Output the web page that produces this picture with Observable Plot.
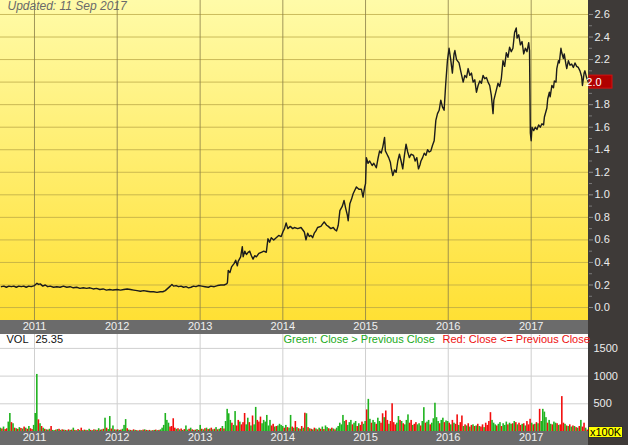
<!DOCTYPE html>
<html><head><meta charset="utf-8">
<script src="https://cdn.jsdelivr.net/npm/d3@7"></script>
<script src="https://cdn.jsdelivr.net/npm/@observablehq/plot@0.6"></script>
<style>
html,body{margin:0;padding:0;background:#fff;}
#chart{width:628px;height:445px;overflow:hidden;}
#chart svg{display:block;}
</style></head><body><div id="chart"></div>
<script>
// ---------- DATA ----------
const updatedText = "Updated: 11 Sep 2017";
const lastClose = 2.0;
const lastVolume = 25.35;
const yearTicks = [2011, 2012, 2013, 2014, 2015, 2016, 2017];
const priceTicks = [0, 0.2, 0.4, 0.6, 0.8, 1.0, 1.2, 1.4, 1.6, 1.8, 2.0, 2.2, 2.4, 2.6];
const volTicks = [500, 1000, 1500];

// closing price, decimal-year dates
const priceYears = [
2010.60,2010.63,2010.66,2010.69,2010.72,2010.75,2010.78,2010.81,2010.84,2010.87,2010.90,2010.93,2010.96,
2011.00,2011.03,2011.05,2011.07,2011.10,2011.13,2011.16,2011.19,2011.23,2011.27,2011.31,2011.35,2011.39,2011.43,2011.47,2011.51,2011.55,2011.59,2011.63,2011.67,2011.71,2011.75,2011.79,2011.83,2011.87,2011.91,2011.95,
2012.00,2012.04,2012.08,2012.12,2012.16,2012.20,2012.24,2012.28,2012.32,2012.36,2012.40,2012.44,2012.48,2012.52,2012.55,2012.58,2012.61,2012.64,2012.66,2012.68,2012.71,2012.74,2012.77,2012.80,2012.83,2012.86,2012.89,2012.92,2012.95,2012.98,
2013.02,2013.06,2013.10,2013.13,2013.17,2013.21,2013.25,2013.29,2013.32,2013.33,2013.34,2013.36,2013.38,2013.41,2013.43,2013.45,2013.46,2013.49,2013.51,2013.52,2013.54,2013.56,2013.58,2013.60,2013.62,2013.64,2013.66,2013.68,2013.71,2013.74,2013.77,2013.80,2013.82,2013.84,2013.86,2013.89,2013.92,2013.95,2013.98,
2014.00,2014.02,2014.04,2014.06,2014.09,2014.12,2014.14,2014.18,2014.22,2014.24,2014.26,2014.28,2014.30,2014.32,2014.34,2014.36,2014.38,2014.40,2014.42,2014.46,2014.50,2014.53,2014.55,2014.58,2014.61,2014.63,2014.65,2014.67,2014.69,2014.72,2014.74,2014.76,2014.78,2014.79,2014.81,2014.83,2014.85,2014.87,2014.89,2014.92,2014.95,2014.97,2014.99,
2015.00,2015.01,2015.03,2015.05,2015.08,2015.10,2015.13,2015.15,2015.17,2015.19,2015.21,2015.23,2015.24,2015.26,2015.28,2015.30,2015.31,2015.33,2015.35,2015.37,2015.39,2015.41,2015.43,2015.45,2015.47,2015.49,2015.51,2015.53,2015.55,2015.58,2015.60,2015.62,2015.64,2015.66,2015.67,2015.69,2015.71,2015.73,2015.75,2015.77,2015.79,2015.81,2015.83,2015.85,2015.87,2015.89,2015.91,2015.93,2015.95,2015.97,2015.99,
2016.01,2016.03,2016.05,2016.07,2016.08,2016.10,2016.13,2016.15,2016.18,2016.20,2016.22,2016.24,2016.26,2016.28,2016.30,2016.32,2016.34,2016.36,2016.38,2016.40,2016.42,2016.44,2016.46,2016.48,2016.50,2016.52,2016.54,2016.55,2016.57,2016.60,2016.62,2016.64,2016.66,2016.68,2016.70,2016.72,2016.74,2016.76,2016.78,2016.80,2016.82,2016.83,2016.85,2016.87,2016.89,2016.91,2016.93,2016.95,2016.97,2016.98,2016.99,
2017.00,2017.01,2017.03,2017.05,2017.07,2017.09,2017.11,2017.13,2017.15,2017.16,2017.19,2017.20,2017.22,2017.23,2017.25,2017.27,2017.28,2017.30,2017.31,2017.33,2017.34,2017.36,2017.37,2017.39,2017.40,2017.42,2017.43,2017.45,2017.47,2017.49,2017.51,2017.53,2017.55,2017.57,2017.59,2017.61,2017.62,2017.64,2017.65,2017.67,2017.69
];
const priceValues = [
0.185,0.19,0.18,0.19,0.185,0.19,0.18,0.19,0.185,0.19,0.18,0.19,0.185,
0.195,0.215,0.205,0.21,0.19,0.2,0.185,0.19,0.18,0.185,0.18,0.19,0.18,0.185,0.175,0.18,0.17,0.175,0.17,0.175,0.165,0.17,0.16,0.165,0.155,0.16,0.155,
0.16,0.155,0.16,0.165,0.16,0.155,0.15,0.145,0.15,0.145,0.14,0.14,0.135,0.14,0.14,0.15,0.17,0.19,0.205,0.19,0.195,0.185,0.19,0.18,0.185,0.175,0.18,0.19,0.185,0.195,
0.19,0.185,0.18,0.19,0.185,0.195,0.2,0.2,0.21,0.22,0.33,0.31,0.36,0.39,0.42,0.37,0.41,0.45,0.54,0.45,0.5,0.47,0.49,0.5,0.46,0.43,0.46,0.45,0.48,0.49,0.5,0.49,0.61,0.58,0.62,0.6,0.62,0.64,0.63,
0.67,0.7,0.75,0.7,0.72,0.7,0.71,0.7,0.71,0.69,0.67,0.6,0.66,0.63,0.64,0.62,0.66,0.68,0.71,0.72,0.76,0.73,0.72,0.7,0.71,0.69,0.68,0.73,0.86,0.9,0.95,0.88,0.82,0.77,0.92,0.96,1.01,1.04,1.07,1.05,1.05,0.98,1.07,
1.1,1.33,1.28,1.3,1.26,1.28,1.24,1.32,1.39,1.37,1.43,1.51,1.39,1.36,1.33,1.29,1.24,1.17,1.22,1.2,1.3,1.36,1.3,1.23,1.35,1.45,1.38,1.33,1.36,1.35,1.3,1.33,1.23,1.27,1.3,1.33,1.37,1.35,1.4,1.38,1.39,1.44,1.48,1.66,1.72,1.75,1.84,1.78,1.75,1.99,2.19,
2.3,2.2,2.08,2.25,2.28,2.2,2.17,2.1,2.0,2.06,2.04,2.12,2.06,2.08,2.0,2.02,1.91,1.97,2.01,1.99,2.06,2.03,2.04,2.0,1.97,1.88,1.72,1.84,1.9,1.99,1.96,2.03,2.19,2.14,2.26,2.22,2.31,2.27,2.3,2.44,2.48,2.39,2.42,2.33,2.36,2.25,2.3,2.27,2.35,2.28,1.55,
1.48,1.6,1.57,1.6,1.58,1.62,1.6,1.63,1.62,1.69,1.77,1.85,1.91,1.87,1.97,1.95,2.01,2.0,2.12,2.19,2.17,2.3,2.26,2.21,2.25,2.16,2.12,2.19,2.15,2.16,2.13,2.17,2.14,2.13,2.1,2.05,1.97,2.08,2.1,2.04,2.0
];

// weekly volume (x100K), positive = close > previous close (green), negative = red
const volFirstWeek = "2010-08-02";
const vol2010 = [60,-45,80,-35,-50,170,325,-160,140,-60,50,-40,70,-55,45,-80,60,-40,90,-50,-35,110];
const vol2011 = [325,1030,-210,140,-90,60,-40,30,-25,40,-90,20,15,-25,35,-40,20,-30,25,-20,15,-30,20,-25,60,-20,15,-35,20,-60,15,-25,20,-15,40,-20,15,-30,25,-20,50,-25,30,-40,240,-60,35,270,-45,100,-30,25];
const vol2012 = [-30,20,-25,40,110,215,-50,25,-20,15,-30,20,-15,10,-20,15,-25,30,-20,15,-20,10,-15,20,-25,15,-20,30,60,110,325,200,150,-80,-90,-230,-60,40,-50,30,-45,20,-35,100,25,-40,60,-30,20,-25,35,-20];
const vol2013 = [110,-40,30,-50,60,-35,45,-60,30,-40,70,-30,40,-55,90,-45,180,400,320,200,-150,110,360,-100,-200,170,-120,-160,-325,120,240,-160,100,-280,120,435,-200,-170,-260,140,200,170,290,100,200,-100,-130,80,-90,100,130,110];
const vol2014 = [90,-60,110,-70,60,290,-80,60,-180,70,-50,40,-90,60,-330,320,-70,50,-40,30,-60,45,-30,60,-40,80,-35,100,70,-50,40,-60,45,-30,60,90,150,120,290,180,-200,110,160,200,-120,150,180,-90,140,-110,-170,130];
const vol2015 = [180,-390,580,220,-150,200,160,-130,240,180,-150,-320,250,-370,-200,130,-180,-500,-160,-120,150,270,-200,180,-140,120,200,300,-150,-200,110,-130,-160,120,140,-100,180,430,-150,170,200,-120,150,230,510,250,180,-140,200,240,-160,190];
const vol2016 = [180,-150,120,-200,150,-130,-300,110,-160,-280,90,-120,100,-140,80,-110,120,-90,100,-130,90,-80,-120,70,-150,-110,-180,-340,200,150,120,-100,130,160,-90,140,110,170,-120,150,130,-140,180,-160,120,-150,-110,130,-140,100,-180,-120];
const vol2017 = [-220,150,-120,130,-160,140,-400,180,400,350,250,-150,200,130,-120,170,150,-140,110,-120,-630,-150,130,-100,90,-120,80,-100,90,-70,60,-90,200,-80,-150,60,-25.35];

// ---------- BUILD ----------
const FONT = "'Liberation Sans', Arial, Helvetica, sans-serif";
const GREEN = "#1fb31f", RED = "#f20d0d";
function decYear(t){const y=Math.floor(t);const a=Date.UTC(y,0,1),b=Date.UTC(y+1,0,1);return new Date(a+(t-y)*(b-a));}
const prices = priceYears.map((t,i)=>({date: decYear(t), close: priceValues[i]}));
const volAll = [...vol2010,...vol2011,...vol2012,...vol2013,...vol2014,...vol2015,...vol2016,...vol2017];
const wk = 7*24*3600*1000;
const t0 = new Date(volFirstWeek + "T00:00:00Z").getTime();
const vols = volAll.map((v,i)=>({d1: new Date(t0+i*wk), d2: new Date(t0+(i+1)*wk), vol: Math.abs(v), up: v>0}));
const xDomain = [new Date("2010-08-04T00:00:00Z"), new Date("2017-09-11T00:00:00Z")];
const yearDates = yearTicks.map(y=>new Date(Date.UTC(y,0,1)));
const labelTicks = priceTicks.filter(d => Math.abs(d - lastClose) > 1e-9);

function backdrop(plotFill, panelFill, barFill, gradient){
  return (index, scales, values, dims) => {
    const g = d3.create("svg:g");
    const pw = dims.width - dims.marginRight, ph = dims.height - dims.marginBottom;
    if (gradient){
      const lg = g.append("defs").append("linearGradient").attr("id","bgGrad")
        .attr("x1",0).attr("y1",0).attr("x2",0).attr("y2",1);
      lg.append("stop").attr("offset","0%").attr("stop-color","#fffba8");
      lg.append("stop").attr("offset","100%").attr("stop-color","#ffe034");
    }
    g.append("rect").attr("x",0).attr("y",0).attr("width",pw).attr("height",ph).attr("fill",plotFill);
    g.append("rect").attr("x",pw).attr("y",0).attr("width",dims.marginRight).attr("height",dims.height).attr("fill",panelFill);
    g.append("rect").attr("x",0).attr("y",ph).attr("width",pw).attr("height",dims.marginBottom).attr("fill",barFill);
    return g.node();
  };
}

const priceMarker = (index, scales, values, dims) => {
  const g = d3.create("svg:g");
  const x0 = dims.width - dims.marginRight + 1, y = scales.y(lastClose);
  g.append("rect").attr("x",x0).attr("y",y-6.5).attr("width",23).attr("height",13)
    .attr("fill","#b00000").attr("stroke","#d41010").attr("stroke-width",1);
  g.append("text").attr("x",x0+5).attr("y",y+4).attr("fill","#ffffff")
    .attr("font-size",11).attr("font-family",FONT).text(lastClose.toFixed(1));
  return g.node();
};

const unitBox = (index, scales, values, dims) => {
  const g = d3.create("svg:g");
  const x0 = dims.width - dims.marginRight;
  g.append("rect").attr("x",x0+0.5).attr("y",92.5).attr("width",34).attr("height",11)
    .attr("fill","#ffff00").attr("stroke","#333").attr("stroke-width",1);
  g.append("text").attr("x",x0+17.5).attr("y",102).attr("text-anchor","middle").attr("fill","#000")
    .attr("font-size",11).attr("font-family",FONT).text("x100K");
  return g.node();
};

const pricePlot = Plot.plot({
  width: 628, height: 334,
  marginLeft: 0, marginRight: 40, marginTop: 0, marginBottom: 14,
  style: {fontFamily: FONT, fontSize: "11px", background: "transparent", overflow: "visible"},
  x: {type: "utc", domain: xDomain, axis: null},
  y: {domain: [-0.115, 2.724], axis: null},
  marks: [
    backdrop("url(#bgGrad)", "#3e3a38", "#6b6b6b", true),
    Plot.ruleY(priceTicks, {stroke: "#b8a646", strokeOpacity: 0.75}),
    Plot.ruleX(yearDates, {stroke: "#8a7e48", strokeOpacity: 0.8}),
    Plot.line(prices, {x: "date", y: "close", stroke: "#1c1c1c", strokeWidth: 1.4, clip: true}),
    Plot.axisY(priceTicks, {anchor: "right", tickSize: 4, text: null, stroke: "#8c8c8c", label: null}),
    Plot.axisY(labelTicks, {anchor: "right", tickFormat: d => d.toFixed(1), tickSize: 4, tickPadding: 2, stroke: "none", fill: "#ececec", fontSize: 11, label: null}),
    Plot.axisY(priceTicks.slice(0,-1).map(d => d + 0.1), {anchor: "right", tickSize: 3, text: null, stroke: "#7a7a7a", label: null}),
    Plot.axisX(yearDates, {anchor: "bottom", tickFormat: d3.utcFormat("%Y"), tickSize: 0, tickPadding: 2, fill: "#f0f0f0", fontSize: 11, label: null}),
    Plot.text([updatedText], {frameAnchor: "top-left", dx: 7, dy: 1, lineAnchor: "top", textAnchor: "start", fontStyle: "italic", fill: "#6a6a6a", fontSize: 12}),
    priceMarker
  ]
});

const volPlot = Plot.plot({
  width: 628, height: 111,
  marginLeft: 0, marginRight: 40, marginTop: 0, marginBottom: 14,
  style: {fontFamily: FONT, fontSize: "11px", background: "transparent", overflow: "visible"},
  x: {type: "utc", domain: xDomain, axis: null},
  y: {domain: [0, 1751], axis: null},
  marks: [
    backdrop("#ffffff", "#3e3a38", "#6b6b6b", false),
    Plot.ruleY(volTicks, {stroke: "#cfcfcf"}),
    Plot.ruleX(yearDates, {stroke: "#cfcfcf"}),
    Plot.rectY(vols, {x1: "d1", x2: "d2", y: "vol", fill: d => d.up ? GREEN : RED, clip: true}),
    Plot.axisY(volTicks, {anchor: "right", tickSize: 0, tickPadding: 5, tickFormat: d => String(d), fill: "#ececec", fontSize: 11, label: null}),
    Plot.axisX(yearDates, {anchor: "bottom", tickFormat: d3.utcFormat("%Y"), tickSize: 0, tickPadding: 2, fill: "#f0f0f0", fontSize: 11, label: null}),
    Plot.text(["VOL"], {frameAnchor: "top-left", dx: 6, dy: 1, lineAnchor: "top", textAnchor: "start", fill: "#111", fontSize: 11}),
    Plot.text([lastVolume.toFixed(2)], {frameAnchor: "top-left", dx: 35, dy: 1, lineAnchor: "top", textAnchor: "start", fill: "#111", fontSize: 11}),
    Plot.text(["Green: Close > Previous Close"], {frameAnchor: "top-left", dx: 283, dy: 1, lineAnchor: "top", textAnchor: "start", fill: "#22aa22", fontSize: 11}),
    Plot.text(["Red: Close <= Previous Close"], {frameAnchor: "top-left", dx: 442, dy: 1, lineAnchor: "top", textAnchor: "start", fill: "#ee1111", fontSize: 11}),
    unitBox
  ]
});

const root = document.getElementById("chart");
root.appendChild(pricePlot);
root.appendChild(volPlot);
</script></body></html>
